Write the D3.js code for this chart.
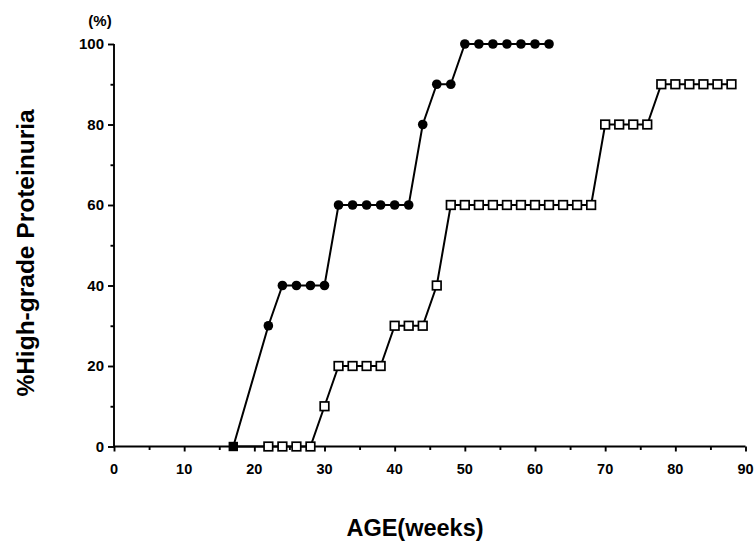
<!DOCTYPE html>
<html><head><meta charset="utf-8">
<script src="https://cdn.jsdelivr.net/npm/d3@7"></script>
<style>body{margin:0;background:#fff}svg{display:block}text{font-family:"Liberation Sans",Arial,sans-serif;font-weight:bold;fill:#000}</style>
</head><body><svg id="c" width="755" height="542"></svg>
<script>
const filledWeeks = [17,22,24,26,28,30,32,34,36,38,40,42,44,46,48,50,52,54,56,58,60,62];
const filledValues = [0,30,40,40,40,40,60,60,60,60,60,60,80,90,90,100,100,100,100,100,100,100];
const openWeeks = [17,22,24,26,28,30,32,34,36,38,40,42,44,46,48,50,52,54,56,58,60,62,64,66,68,70,72,74,76,78,80,82,84,86,88];
const openValues = [0,0,0,0,0,10,20,20,20,20,30,30,30,40,60,60,60,60,60,60,60,60,60,60,60,80,80,80,80,90,90,90,90,90,90];
const xTicks = [0,10,20,30,40,50,60,70,80,90];
const yTicks = [0,20,40,60,80,100];

const svg = d3.select("#c");
const x = d3.scaleLinear().domain([0,90]).range([114,745.5]);
const y = d3.scaleLinear().domain([0,100]).range([446.5,44]);

// axes
const gx = svg.append("g").attr("transform",`translate(0,${y(0)})`);
gx.call(d3.axisBottom(x).tickValues(d3.range(0,91,5)).tickSize(4).tickFormat(""));
gx.selectAll(".tick line").attr("y2",d=>d%10===0?5:3.5);
gx.selectAll("path,line").attr("stroke","#000").attr("stroke-width",1.9);
gx.select("path").attr("d",`M${x(0)},0H${x(90)}`);
gx.selectAll(".lbl").data(xTicks).enter().append("text").attr("class","lbl")
  .attr("x",d=>x(d)).attr("y",27).attr("text-anchor","middle").attr("font-size",14.5).text(d=>d);

const gy = svg.append("g").attr("transform",`translate(${x(0)},0)`);
gy.call(d3.axisLeft(y).tickValues(d3.range(0,101,10)).tickSize(5).tickFormat(""));
gy.selectAll(".tick line").attr("x2",d=>d%20===0?-6:-3.5);
gy.selectAll("path,line").attr("stroke","#000").attr("stroke-width",1.9);
gy.select("path").attr("d",`M0,${y(0)}V${y(100)}`);
gy.selectAll(".lbl").data(yTicks).enter().append("text").attr("class","lbl")
  .attr("x",-10).attr("y",d=>y(d)+5).attr("text-anchor","end").attr("font-size",15).text(d=>d);

svg.append("text").attr("x",100).attr("y",26).attr("text-anchor","middle").attr("font-size",15).text("(%)");
svg.append("text").attr("x",415).attr("y",536).attr("text-anchor","middle").attr("font-size",23.5).text("AGE(weeks)");
svg.append("text").attr("transform","translate(34,253) rotate(-90)").attr("text-anchor","middle").attr("font-size",24.5).text("%High-grade Proteinuria");

const line = d3.line().x(d=>x(d[0])).y(d=>y(d[1]));
const openData = openWeeks.map((w,i)=>[w,openValues[i]]);
const filledData = filledWeeks.map((w,i)=>[w,filledValues[i]]);

svg.append("path").datum(openData).attr("d",line).attr("fill","none").attr("stroke","#000").attr("stroke-width",2);
svg.append("path").datum(filledData).attr("d",line).attr("fill","none").attr("stroke","#000").attr("stroke-width",2);

svg.selectAll(".sq").data(openData.slice(1)).enter().append("rect").attr("class","sq")
  .attr("x",d=>x(d[0])-4.3).attr("y",d=>y(d[1])-4.3).attr("width",8.6).attr("height",8.6)
  .attr("fill","#fff").attr("stroke","#000").attr("stroke-width",1.7);
// start point where both series overlap
svg.append("rect").attr("x",x(filledData[0][0])-4.7).attr("y",y(filledData[0][1])-4.7).attr("width",9.4).attr("height",9.4).attr("fill","#000");
svg.selectAll(".ci").data(filledData.slice(1)).enter().append("circle").attr("class","ci")
  .attr("cx",d=>x(d[0])).attr("cy",d=>y(d[1])).attr("r",4.8).attr("fill","#000");
</script></body></html>
